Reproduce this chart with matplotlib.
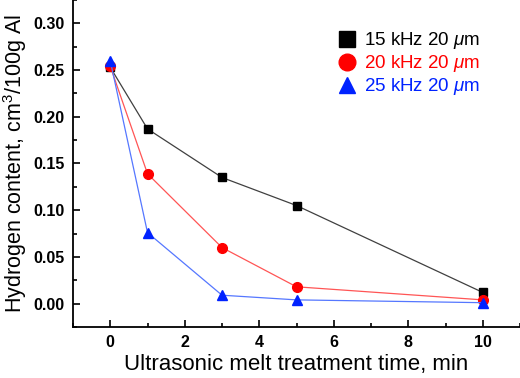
import matplotlib
matplotlib.use("Agg")
import matplotlib.pyplot as plt
from matplotlib.lines import Line2D
from matplotlib.ticker import MultipleLocator

plt.rcParams['font.family'] = ['Liberation Sans', 'DejaVu Sans']
plt.rcParams['mathtext.fontset'] = 'custom'
plt.rcParams['mathtext.it'] = 'Liberation Sans:italic'
plt.rcParams['mathtext.rm'] = 'Liberation Sans'

time_min = [0, 1, 3, 5, 10]
h_15khz = [0.253, 0.187, 0.135, 0.105, 0.012]
h_20khz = [0.254, 0.139, 0.060, 0.018, 0.004]
h_25khz = [0.260, 0.076, 0.009, 0.004, 0.001]
labels = ["15 kHz 20 $\\mu$m", "20 kHz 20 $\\mu$m", "25 kHz 20 $\\mu$m"]

fig = plt.figure(figsize=(5.2, 3.78), dpi=100)
ax = fig.add_axes([0.1404, 0.135, 0.8596, 0.865])

ax.plot(time_min, h_15khz, color='#404040', lw=0.9, marker='s', ms=6,
        mfc='black', mec='black', zorder=3)
ax.plot(time_min, h_20khz, color='#ff5555', lw=0.9, marker='o', ms=7,
        mfc='#ff0000', mec='#ff0000', zorder=3)
ax.plot(time_min, h_25khz, color='#5577ff', lw=0.9, marker='^', ms=7,
        mfc='#0022ff', mec='#0022ff', zorder=4)

ax.set_xlim(-1, 11)
ax.set_ylim(-0.025, 0.325)
ax.xaxis.set_minor_locator(MultipleLocator(1))
ax.yaxis.set_minor_locator(MultipleLocator(0.025))
ax.set_xticks([0, 2, 4, 6, 8, 10])
ax.set_yticks([0.0, 0.05, 0.10, 0.15, 0.20, 0.25, 0.30])
ax.set_yticklabels(['0.00', '0.05', '0.10', '0.15', '0.20', '0.25', '0.30'])
ax.tick_params(which='both', direction='in', width=1.2)
ax.tick_params(which='major', length=5, labelsize=11.5, pad=6)
ax.tick_params(which='minor', length=3)
for lab in ax.get_xticklabels() + ax.get_yticklabels():
    lab.set_fontweight('bold')

for s in ['top', 'right']:
    ax.spines[s].set_visible(False)
for s in ['left', 'bottom']:
    ax.spines[s].set_linewidth(1.3)

ax.set_xlabel('Ultrasonic melt treatment time, min', fontsize=16, labelpad=3)
ax.set_ylabel('Hydrogen content, cm$^3$/100g Al', fontsize=15.5, labelpad=3)

handles = [
    Line2D([], [], ls='none', marker='s', ms=11, color='black'),
    Line2D([], [], ls='none', marker='o', ms=12, color='#ff0000'),
    Line2D([], [], ls='none', marker='^', ms=11, color='#0022ff'),
]
leg = ax.legend(handles, labels, loc='upper right', bbox_to_anchor=(0.927, 0.93),
                frameon=False, fontsize=13.5, handlelength=1.0, handletextpad=0.4,
                labelspacing=0.1, borderaxespad=0)
for t, c in zip(leg.get_texts(), ['black', '#ff0000', '#0022ff']):
    t.set_color(c)

fig.savefig('out.png', dpi=100)
